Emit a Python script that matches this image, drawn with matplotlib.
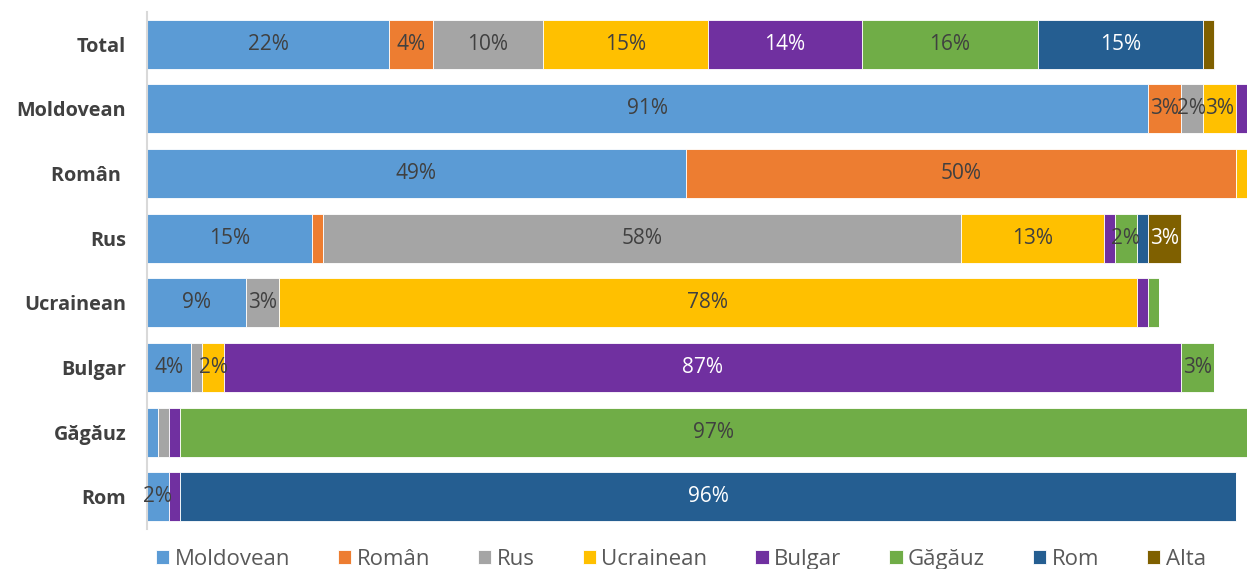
import matplotlib.pyplot as plt
import numpy as np

plt.rcParams["font.family"] = ["Open Sans", "DejaVu Sans"]

ROWS = ["Total", "Moldovean", "Român ", "Rus", "Ucrainean", "Bulgar", "Găgăuz", "Rom"]
SERIES = ["Moldovean", "Român", "Rus", "Ucrainean", "Bulgar", "Găgăuz", "Rom", "Alta"]
COLORS = ["#5B9BD5", "#ED7D31", "#A5A5A5", "#FFC000", "#7030A0", "#70AD47", "#255E91", "#7F6000"]
LABEL_COLORS = ["#404040", "#404040", "#404040", "#404040", "white", "#404040", "white", "white"]

# share of each row (%) per series, rows in ROWS order
moldovean = [22, 91, 49, 15, 9, 4, 1, 2]
roman = [4, 3, 50, 1, 0, 0, 0, 0]
rus = [10, 2, 0, 58, 3, 1, 1, 0]
ucrainean = [15, 3, 1, 13, 78, 2, 0, 0]
bulgar = [14, 1, 0, 1, 1, 87, 1, 1]
gagauz = [16, 0, 0, 2, 1, 3, 97, 0]
rom = [15, 0, 0, 1, 0, 0, 0, 96]
alta = [1, 0, 0, 3, 0, 0, 0, 0]

values = [moldovean, roman, rus, ucrainean, bulgar, gagauz, rom, alta]

fig = plt.figure(figsize=(12.47, 5.69), dpi=100)
ax = fig.add_axes([147 / 1247, 40 / 569, 1100 / 1247, 517 / 569])

y = np.arange(len(ROWS))
left = np.zeros(len(ROWS))
for name, vals, c, lc in zip(SERIES, values, COLORS, LABEL_COLORS):
    vals = np.array(vals, dtype=float)
    bars = ax.barh(y, vals, left=left, height=0.76, color=c, edgecolor="white",
                   linewidth=0.6, label=name)
    for b, v in zip(bars, vals):
        if v >= 2:
            ax.text(b.get_x() + b.get_width() / 2, b.get_y() + b.get_height() / 2,
                    f"{v:.0f}%", ha="center", va="center", fontsize=15, color=lc)
    left += vals

ax.set_xlim(0, 100)
ax.set_ylim(len(ROWS) - 0.5, -0.5)
ax.set_yticks(y)
ax.set_yticklabels(ROWS, fontsize=14.3, fontweight="bold", color="#404040")
ax.tick_params(axis="y", length=0, pad=15)
ax.set_xticks([])
for s in ["top", "right", "bottom"]:
    ax.spines[s].set_visible(False)
ax.spines["left"].set_color("#D9D9D9")
ax.spines["left"].set_linewidth(1.5)

fig.legend(loc="lower center", bbox_to_anchor=(0.546, -0.037), ncol=8, frameon=False,
           fontsize=16, labelcolor="#595959", handlelength=0.6, handleheight=0.6,
           handletextpad=0.25, columnspacing=2.15)

fig.savefig("out.png", dpi=100)
